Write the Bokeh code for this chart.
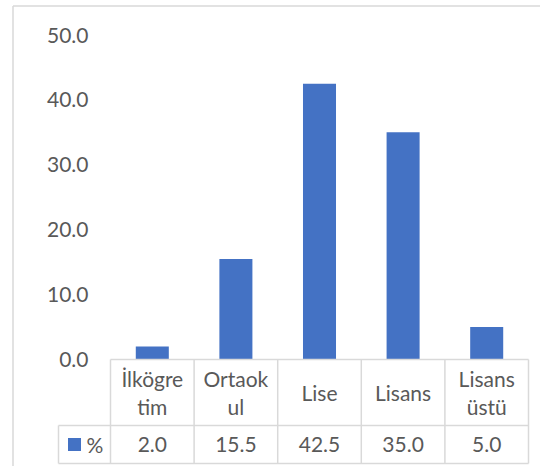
from bokeh.plotting import figure
from bokeh.models import Range1d, ColumnDataSource
from bokeh.core.properties import value
from bokeh.embed import file_html
from bokeh.resources import INLINE

# ---- data ----
categories = ["İlkögretim", "Ortaokul", "Lise", "Lisans", "Lisans üstü"]
category_labels = ["İlkögre\ntim", "Ortaok\nul", "Lise", "Lisans", "Lisans\nüstü"]
percent = [2.0, 15.5, 42.5, 35.0, 5.0]
series_name = "%"
y_ticks = [0, 10, 20, 30, 40, 50]

# ---- layout constants (pixels) ----
W, H = 540, 466
CELL_LEFT = 110.0       # left edge of first category cell
CELL_W = 83.6           # width of one category cell
ZERO_Y = 359.0          # pixel row of value 0
PX_PER_UNIT = 6.49      # pixels per 1 unit of value
HDR_BOTTOM = 425.0
TBL_BOTTOM = 463.0
LEG_LEFT = 58.0
BAR_FRAC = 0.395

FONT = value("Lato")
TXT = "#595959"
GRID = "#D9D9D9"
BLUE = "#4472C4"
FS = "21px"

x0 = CELL_LEFT + CELL_W / 2
xr = Range1d((0 - x0) / CELL_W, (W - x0) / CELL_W)
yr = Range1d((ZERO_Y - H) / PX_PER_UNIT, ZERO_Y / PX_PER_UNIT)

p = figure(width=W, height=H, x_range=xr, y_range=yr, output_backend="svg",
           toolbar_location=None, min_border=0)
p.extra_x_ranges = {"px": Range1d(0, W)}
p.extra_y_ranges = {"px": Range1d(H, 0)}
p.xaxis.visible = False
p.yaxis.visible = False
p.grid.visible = False
p.outline_line_color = None
p.background_fill_color = "white"
p.border_fill_color = "white"

idx = list(range(len(categories)))

# chart border (left and top)
p.segment(x0=[12.5, 12.5], y0=[H, 5.5], x1=[12.5, W], y1=[5.5, 5.5],
          x_range_name="px", y_range_name="px", line_color=GRID, line_width=1.5)

# bars
src = ColumnDataSource(dict(x=idx, top=percent, cat=categories))
p.vbar(x="x", top="top", bottom=0, width=BAR_FRAC, source=src,
       fill_color=BLUE, line_color=None)

# y tick labels
p.text(x=[88] * len(y_ticks), y=y_ticks, text=[f"{t:.1f}" for t in y_ticks],
       x_range_name="px", text_align="right", text_baseline="middle",
       text_font=FONT, text_font_size=FS, text_color=TXT)

# data table grid
n = len(categories)
right = CELL_LEFT + n * CELL_W
hx0 = [CELL_LEFT, LEG_LEFT, LEG_LEFT]
hx1 = [right, right, right]
hy = [ZERO_Y, HDR_BOTTOM, TBL_BOTTOM]
p.segment(x0=hx0, y0=hy, x1=hx1, y1=hy, x_range_name="px", y_range_name="px",
          line_color=GRID, line_width=1.5)
vx = [CELL_LEFT + k * CELL_W for k in range(n + 1)]
p.segment(x0=vx, y0=[ZERO_Y] * len(vx), x1=vx, y1=[TBL_BOTTOM] * len(vx),
          x_range_name="px", y_range_name="px", line_color=GRID, line_width=1.5)
p.segment(x0=[LEG_LEFT], y0=[HDR_BOTTOM], x1=[LEG_LEFT], y1=[TBL_BOTTOM],
          x_range_name="px", y_range_name="px", line_color=GRID, line_width=1.5)

# category labels
hdr_mid = (ZERO_Y + HDR_BOTTOM) / 2
p.text(x=idx, y=[hdr_mid] * n, text=category_labels, y_range_name="px",
       text_align="center", text_baseline="middle", text_line_height=1.15,
       text_font=FONT, text_font_size=FS, text_color=TXT)

# value row
val_mid = (HDR_BOTTOM + TBL_BOTTOM) / 2
p.text(x=idx, y=[val_mid] * n, text=[f"{v:.1f}" for v in percent], y_range_name="px",
       text_align="center", text_baseline="middle",
       text_font=FONT, text_font_size=FS, text_color=TXT)

# legend key
p.rect(x=[74], y=[val_mid], width=13, height=13, x_range_name="px", y_range_name="px",
       width_units="screen", height_units="screen", fill_color=BLUE, line_color=None)
p.text(x=[86], y=[val_mid], text=[series_name], x_range_name="px", y_range_name="px",
       text_align="left", text_baseline="middle",
       text_font=FONT, text_font_size=FS, text_color=TXT)

open("out.html", "w").write(file_html(p, INLINE))
